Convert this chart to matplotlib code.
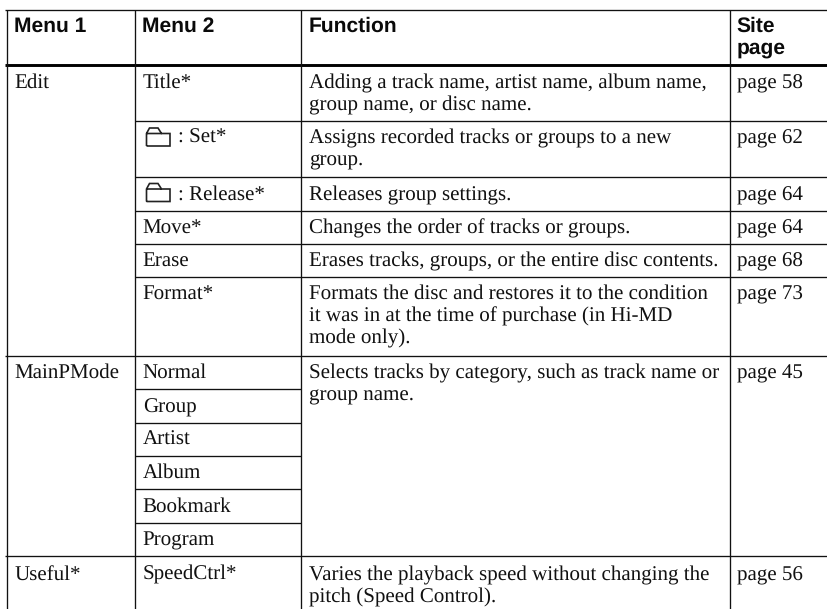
import matplotlib
matplotlib.use("Agg")
import matplotlib.pyplot as plt
from matplotlib.patches import PathPatch
from matplotlib.path import Path

plt.rcParams['text.hinting'] = 'none'
plt.rcParams['text.hinting_factor'] = 1

### table text
headers = [["Menu 1"], ["Menu 2"], ["Function"], ["Site", "page"]]
menu1 = ["Edit", "MainPMode", "Useful*"]
menu2 = ["Title*", ": Set*", ": Release*", "Move*", "Erase", "Format*",
         "Normal", "Group", "Artist", "Album", "Bookmark", "Program", "SpeedCtrl*"]
functions = [
    ["Adding a track name, artist name, album name,", "group name, or disc name."],
    ["Assigns recorded tracks or groups to a new", "group."],
    ["Releases group settings."],
    ["Changes the order of tracks or groups."],
    ["Erases tracks, groups, or the entire disc contents."],
    ["Formats the disc and restores it to the condition",
     "it was in at the time of purchase (in Hi-MD", "mode only)."],
    ["Selects tracks by category, such as track name or", "group name."],
    ["Varies the playback speed without changing the", "pitch (Speed Control)."],
]
pages = ["page 58", "page 62", "page 64", "page 64", "page 68", "page 73", "page 45", "page 56"]

### layout in pixels, y runs downwards
col_x = [6.5, 134.5, 300.5, 729.5]
text_x = [14.3, 142.7, 309, 737]
head_x = [14, 142.5, 308.5, 736.5]
top_y = 9.5
header_y = 65
full_rules = [356.3, 556]
edit_rules = [121, 177.3, 211.3, 244.3, 277.3]
menu2_rules = [389.3, 423.3, 456.3, 489.3, 523.3]
menu1_base = [88, 378, 580]
menu2_base = [88, 143, 200, 233, 266, 299, 378, 412.5, 445, 478, 511.5, 545, 580]
func_base = [88, 143, 200, 233, 266, 299, 378, 580]
header_base = [32, 53.5]
line_gap = 22.3
icon_rows = [128, 183.5]

fig = plt.figure(figsize=(8.27, 6.09), dpi=100)
ax = fig.add_axes([0, 0, 1, 1])
ax.set_xlim(0, 827)
ax.set_ylim(609, 0)
ax.axis("off")

### rules
thin = 0.95
ink = "#111111"
ax.plot([5, 827], [top_y, top_y], color=ink, lw=thin, solid_capstyle="butt")
ax.plot([5, 827], [header_y, header_y], color="black", lw=2.1, solid_capstyle="butt")
for y in full_rules:
    ax.plot([5, 827], [y, y], color=ink, lw=thin, solid_capstyle="butt")
for y in edit_rules:
    ax.plot([col_x[1], 827], [y, y], color=ink, lw=thin, solid_capstyle="butt")
for y in menu2_rules:
    ax.plot([col_x[1], col_x[2]], [y, y], color=ink, lw=thin, solid_capstyle="butt")
for x in col_x:
    ax.plot([x, x], [top_y, 609], color=ink, lw=thin, solid_capstyle="butt")

### header
for x, lines in zip(head_x, headers):
    for y, s in zip(header_base, lines):
        ax.text(x, y, s, family="Liberation Sans", weight="bold", fontsize=15.0,
                va="baseline", ha="left", color="#0a0a0a")

### body
serif = dict(family="Liberation Serif", fontsize=15.1, va="baseline", ha="left", color="#111111")
for s, y in zip(menu1, menu1_base):
    ax.text(text_x[0], y, s, **serif)
for s, y in zip(menu2, menu2_base):
    x = 178 if s.startswith(":") else text_x[1]
    ax.text(x, y, s, **serif)
for lines, y in zip(functions, func_base):
    for i, s in enumerate(lines):
        ax.text(text_x[2], y + i * line_gap, s, **serif)
for s, y in zip(pages, func_base):
    ax.text(text_x[3], y, s, **serif)

### folder icons
for t in icon_rows:
    verts = [(146.5, t + 18), (146.5, t + 5.5), (149.5, t), (158, t), (161.5, t + 5.5),
             (170, t + 5.5), (170, t + 18), (146.5, t + 18), (146.5, t + 5.5), (161.5, t + 5.5)]
    codes = [Path.MOVETO] + [Path.LINETO] * 7 + [Path.MOVETO, Path.LINETO]
    ax.add_patch(PathPatch(Path(verts, codes), fill=False, edgecolor="#222222", lw=1.2))

fig.savefig("out.png", dpi=100, facecolor="white")
